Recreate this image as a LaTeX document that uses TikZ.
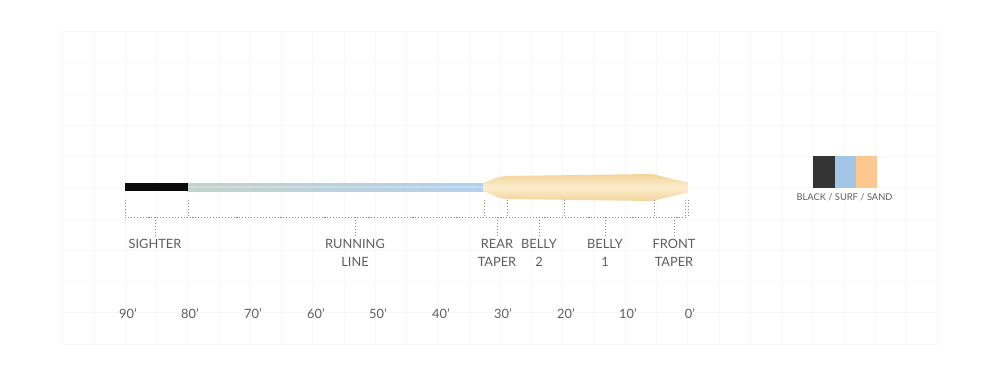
\documentclass[tikz,border=0pt]{standalone}
\usepackage{fontspec}
\setmainfont{Lato}
\definecolor{txt}{HTML}{5E5E5E}
\definecolor{dotc}{HTML}{8A8A8A}
\definecolor{gridc}{HTML}{F7F7F7}
\definecolor{sighter}{HTML}{0B0B0B}
\definecolor{runA}{HTML}{C3D2CA}
\definecolor{runB}{HTML}{B3D1EE}
\definecolor{sandE}{HTML}{F2D49C}
\definecolor{sandM}{HTML}{FCEDCB}
\definecolor{swBlack}{HTML}{333333}
\definecolor{swSurf}{HTML}{A3C5E6}
\definecolor{swSand}{HTML}{FDC890}
\begin{document}
\begin{tikzpicture}[x=0.75pt,y=-0.75pt,
  dotline/.style={draw=dotc,line width=0.6pt,dash pattern=on 0.8pt off 1.4pt},
  lbl/.style={text=txt,font=\fontsize{9.6}{13.5}\selectfont,align=center,inner sep=0pt,anchor=north},
  scl/.style={text=txt,font=\fontsize{9.6}{12}\selectfont,inner sep=0pt,anchor=center},
  swlbl/.style={text=txt,font=\fontsize{7}{8}\selectfont,inner sep=0pt,anchor=center}]
\useasboundingbox (0,0) rectangle (1000,375);
\fill[white] (0,0) rectangle (1000,375);
% faint grid
\foreach \i in {0,...,28} {\draw[gridc,line width=0.3pt] (62.5+31.25*\i,31.25) -- (62.5+31.25*\i,343.75);}
\foreach \j in {0,...,10} {\draw[gridc,line width=0.3pt] (62.5,31.25+31.25*\j) -- (937.5,31.25+31.25*\j);}
% running line
\shade[left color=runA,right color=runB] (187,183) rectangle (484,191);
\fill[white,opacity=0.25] (187,185.5) rectangle (484,188);
% sighter
\fill[sighter] (125,183) rectangle (188,191);
% head
\shade[top color=sandE,bottom color=sandE,middle color=sandM]
  (483,183) .. controls (492,180) and (497,176.5) .. (507,176) -- (652,174)
  -- (688,182.5) -- (688,192.5) -- (652,201) -- (507,199)
  .. controls (497,198.5) and (492,194) .. (483,191) -- cycle;
% segment coordinates
\foreach \n/\x in {a/125,b/188,c/484,d/507,e/564,f/654,g/685,h/688} {
  \coordinate (t\n) at (\x,200);
  \coordinate (b\n) at (\x,217);
  \draw[dotline] (t\n) -- (b\n);
}
\draw[dotline] (ba) -- (bh);
% labels
\node[lbl] (sighter) at (155,239) {SIGHTER};
\node[lbl] (running) at (355,239) {RUNNING\\LINE};
\node[lbl] (rear) at (497,239) {REAR\\TAPER};
\node[lbl] (belly2) at (539,239) {BELLY\\2};
\node[lbl] (belly1) at (605,239) {BELLY\\1};
\node[lbl] (front) at (674,239) {FRONT\\TAPER};
\foreach \n/\x in {sighter/155,running/355,rear/497,belly2/539,belly1/605,front/674} {
  \coordinate (m\n) at (\x,217);
  \draw[dotline] (m\n) -- ([yshift=2.2pt]\n.north);
}
% scale
\foreach \v/\x in {90/128,80/190,70/253,60/316,50/378,40/441,30/503,20/566,10/628,0/690} {
  \node[scl] (s\v) at (\x,314) {\v’};
}
% swatch
\fill[swBlack] (813,156) rectangle (834.5,188);
\fill[swSurf] (834.5,156) rectangle (855.5,188);
\fill[swSand] (855.5,156) rectangle (876.5,188);
\node[swlbl] (swatch) at (844.5,197.5) {BLACK / SURF / SAND};
\end{tikzpicture}
\end{document}
